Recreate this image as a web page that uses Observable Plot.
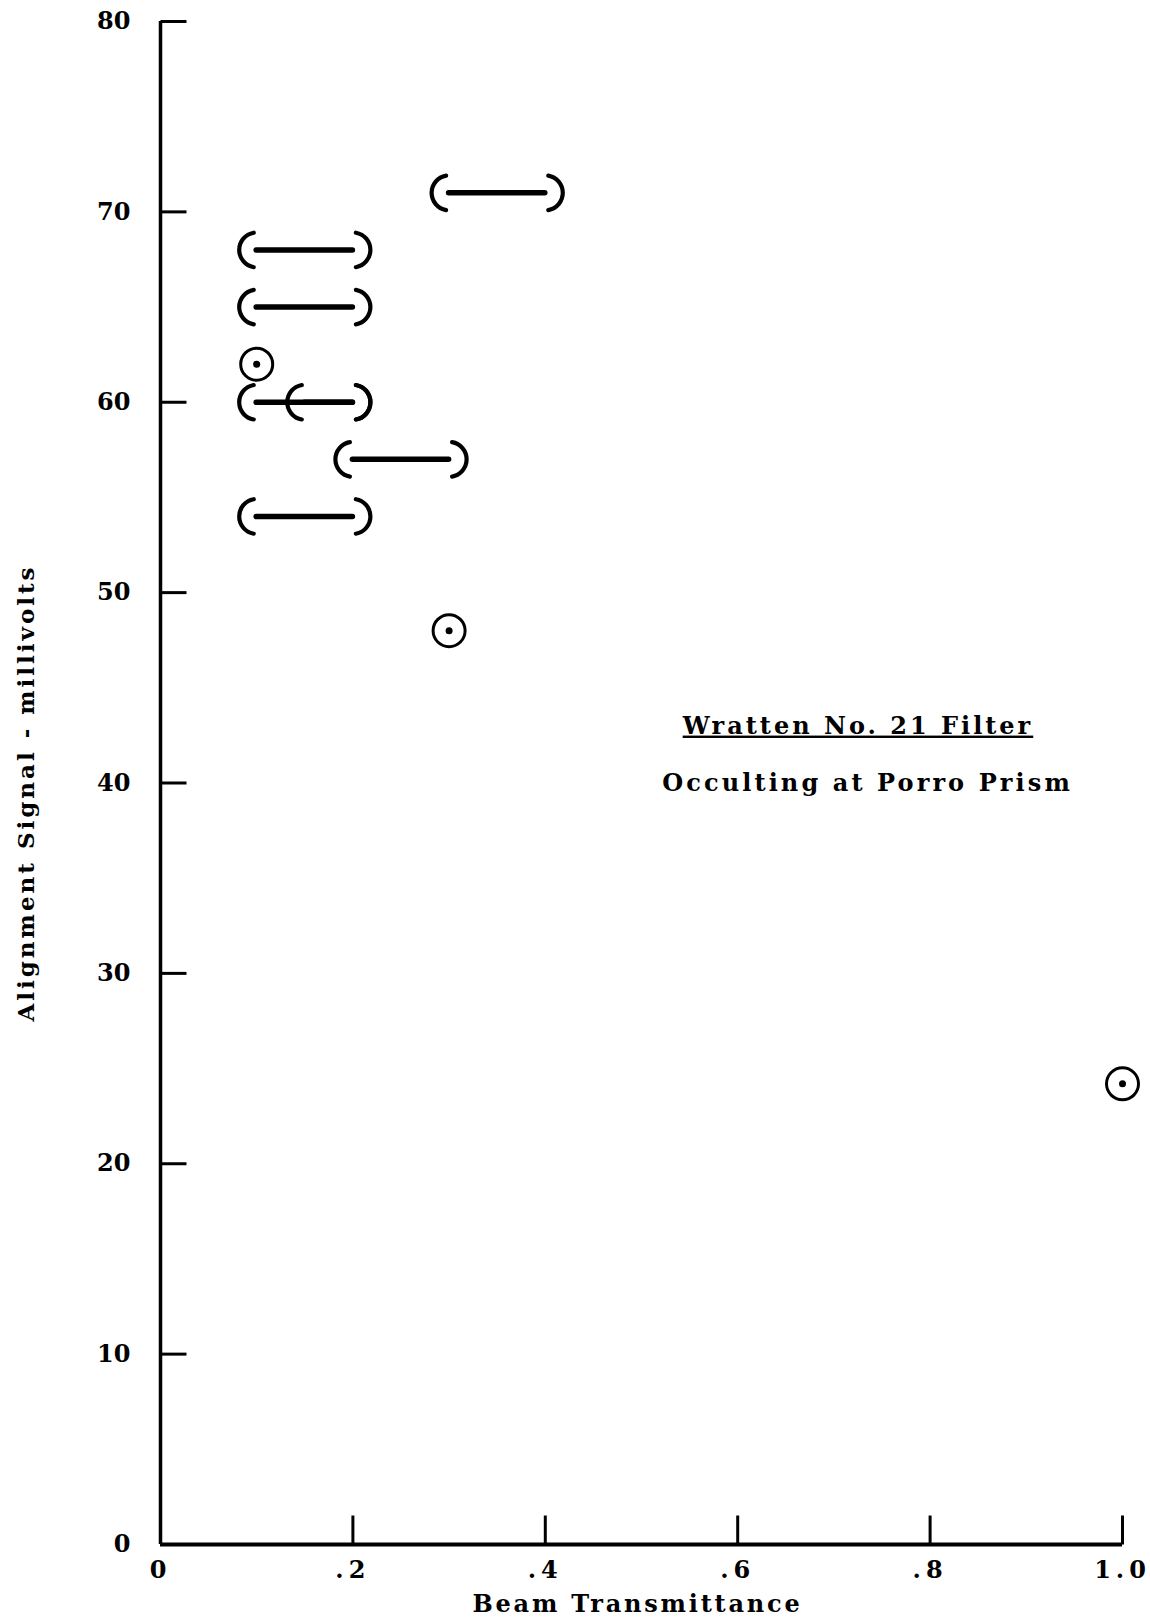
<!DOCTYPE html>
<html>
<head>
<meta charset="utf-8">
<script src="https://cdn.jsdelivr.net/npm/d3@7"></script>
<script src="https://cdn.jsdelivr.net/npm/@observablehq/plot@0.6"></script>
<style>
  html, body { margin: 0; padding: 0; background: #fff; }
  #chart svg { display: block; }
  .ann-title text { letter-spacing: 3px; text-decoration: underline; text-underline-offset: 11px; text-decoration-thickness: 2.5px; }
  .ann-sub text { letter-spacing: 3.1px; }
  .lab-x text { letter-spacing: 2.8px; }
  .lab-y text { letter-spacing: 3px; }
  g[aria-label="x-axis tick label"] text { letter-spacing: 5px; }
</style>
</head>
<body>
<div id="chart"></div>
<script>
// ---- data ----
const rangeY  = [71, 68, 65, 60, 60, 57, 54];
const rangeX1 = [0.3, 0.1, 0.1, 0.1, 0.15, 0.2, 0.1];
const rangeX2 = [0.4, 0.2, 0.2, 0.2, 0.2, 0.3, 0.2];
const pointX = [0.1, 0.3, 1.0];
const pointY = [62, 48, 24.2];
const xTicks = [0, 0.2, 0.4, 0.6, 0.8, 1.0];
const xTickLabels = ["0", ".2", ".4", ".6", ".8", "1.0"];
const yTicks = [0, 10, 20, 30, 40, 50, 60, 70, 80];
const xLabel = "Beam Transmittance";
const yLabel = "Alignment Signal - millivolts";
const noteLines = ["Wratten No. 21 Filter", "Occulting at Porro Prism"];
const noteX = [0.725, 0.735];
const noteY = [43.0, 40.0];

// ---- tables built from the arrays ----
const ranges = rangeY.map((y, i) => ({y, x1: rangeX1[i], x2: rangeX2[i]}));
const points = pointX.map((x, i) => ({x, y: pointY[i]}));
const notes = noteLines.map((t, i) => ({t, x: noteX[i], y: noteY[i]}));

// custom symbols
const PR = 17.5, PA = 1.4;
const leftParen = {draw(ctx) { ctx.moveTo(PR * Math.cos(Math.PI - PA), PR * Math.sin(Math.PI - PA)); ctx.arc(0, 0, PR, Math.PI - PA, Math.PI + PA); }};
const rightParen = {draw(ctx) { ctx.moveTo(PR * Math.cos(-PA), PR * Math.sin(-PA)); ctx.arc(0, 0, PR, -PA, PA); }};
const yTickSym = {draw(ctx) { ctx.moveTo(0, 0); ctx.lineTo(26, 0); }};
const xTickSym = {draw(ctx) { ctx.moveTo(0, 0); ctx.lineTo(0, -29); }};

const font = "'DejaVu Serif', serif";

const chart = Plot.plot({
  width: 1150,
  height: 1622,
  marginTop: 21,
  marginBottom: 78,
  marginLeft: 160,
  marginRight: 28,
  style: {fontFamily: font, background: "#fff", color: "#000"},
  x: {domain: [0, 1]},
  y: {domain: [0, 80]},
  marks: [
    // axes labels
    Plot.axisY(yTicks, {tickSize: 0, tickPadding: 30, fontSize: 24, fontWeight: "bold", label: null}),
    Plot.axisX(xTicks, {tickSize: 0, tickPadding: 16, fontSize: 24, fontWeight: "bold", label: null,
      tickFormat: (d) => xTickLabels[xTicks.indexOf(d)]}),
    // axis titles
    Plot.text([xLabel], {frameAnchor: "bottom", textAnchor: "middle", dx: -4, dy: 67, fontSize: 24, fontWeight: "bold", className: "lab-x"}),
    Plot.text([yLabel], {frameAnchor: "left", textAnchor: "middle", dx: -134, dy: 10, rotate: -90, fontSize: 23, fontWeight: "bold", className: "lab-y"}),
    // axis lines
    Plot.ruleX([0], {y1: 0, y2: 80, strokeWidth: 3.5}),
    Plot.ruleY([0], {x1: 0, x2: 1, strokeWidth: 4}),
    // ticks
    Plot.dot(yTicks.filter(d => d > 0), {x: 0, y: d => d, symbol: yTickSym, fill: "none", stroke: "black", strokeWidth: 3}),
    Plot.dot(xTicks.filter(d => d > 0), {x: d => d, y: 0, symbol: xTickSym, fill: "none", stroke: "black", strokeWidth: 3}),
    // ranges
    Plot.ruleY(ranges, {y: "y", x1: "x1", x2: "x2", strokeWidth: 5.5, strokeLinecap: "round"}),
    Plot.dot(ranges, {x: "x1", y: "y", symbol: leftParen, fill: "none", stroke: "black", strokeWidth: 4.2, strokeLinecap: "round"}),
    Plot.dot(ranges, {x: "x2", y: "y", symbol: rightParen, fill: "none", stroke: "black", strokeWidth: 4.2, strokeLinecap: "round"}),
    // circled points
    Plot.dot(points, {x: "x", y: "y", r: 16, fill: "none", stroke: "black", strokeWidth: 3}),
    Plot.dot(points, {x: "x", y: "y", r: 3.5, fill: "black"}),
    // annotation
    Plot.text(notes.slice(0, 1), {x: "x", y: "y", text: "t", fontSize: 24, fontWeight: "bold", className: "ann-title"}),
    Plot.text(notes.slice(1), {x: "x", y: "y", text: "t", fontSize: 24, fontWeight: "bold", className: "ann-sub"})
  ]
});
document.getElementById("chart").appendChild(chart);
</script>
</body>
</html>
